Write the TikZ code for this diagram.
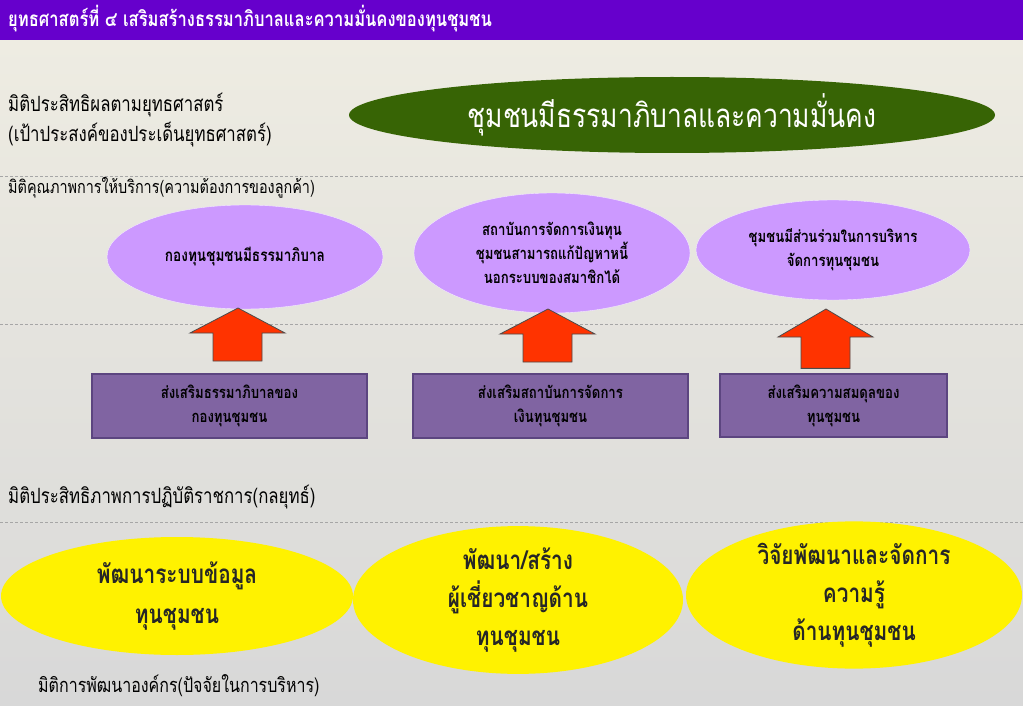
\documentclass[tikz,border=0pt]{standalone}
\usepackage{fontspec}
\newfontfamily\thaifont[Script=Thai,FakeStretch=0.8]{Loma}
\usetikzlibrary{shapes.geometric, positioning}
\definecolor{headpurple}{RGB}{102,0,204}
\definecolor{goalgreen}{RGB}{55,100,5}
\definecolor{lilac}{RGB}{204,153,255}
\definecolor{boxpurple}{RGB}{128,100,162}
\definecolor{boxedge}{RGB}{92,69,128}
\definecolor{arrowred}{RGB}{255,51,0}
\definecolor{bgtop}{RGB}{238,236,226}
\definecolor{bgbottom}{RGB}{216,216,216}
\newcommand\fsz[2]{\fontsize{#1}{#2}\selectfont}

\begin{document}
\begin{tikzpicture}[x=1pt,y=-1pt,font=\thaifont,
	dimlabel/.style={anchor=west,inner sep=0},
	divider/.style={densely dashed,draw=gray!70,line width=0.8},
	goalnode/.style={ellipse,fill=goalgreen,text=white,minimum width=646,minimum height=76,font=\thaifont\fsz{33}{40}},
	servicenode/.style={ellipse,fill=lilac,draw=white!80!lilac,align=center,inner sep=0,font=\thaifont\bfseries\fsz{16.5}{24}},
	strategybox/.style={rectangle,fill=boxpurple,draw=boxedge,line width=1.5,align=center,font=\thaifont\bfseries\fsz{16.5}{24}},
	orgnode/.style={ellipse,fill=yellow,align=center,inner sep=0,text=black!85,font=\thaifont\bfseries\fsz{26}{38}},
	uparrow/.pic={\filldraw[fill=arrowred,draw=black!70,line width=0.8]
		(0,0) -- (47,25) -- (24,25) -- (24,53) -- (-25,53) -- (-25,25) -- (-48,25) -- cycle;}]
	\useasboundingbox (0,0) rectangle (1023,706);
	\shade[top color=bgtop,bottom color=bgbottom] (0,40) rectangle (1023,706);
	\fill[headpurple] (0,0) rectangle (1023,40);
	\node[dimlabel,text=white,font=\thaifont\bfseries\fsz{20.7}{24}] (title) at (8,19) {ยุทธศาสตร์ที่ ๔ เสริมสร้างธรรมาภิบาลและความมั่นคงของทุนชุมชน};

	\coordinate (d1l) at (0,176); \coordinate (d1r) at (1023,176);
	\coordinate (d2l) at (0,324); \coordinate (d2r) at (1023,324);
	\coordinate (d3l) at (0,522); \coordinate (d3r) at (1023,522);
	\draw[divider] (d1l) -- (d1r);
	\draw[divider] (d2l) -- (d2r);
	\draw[divider] (d3l) -- (d3r);

	\node[dimlabel,font=\thaifont\fsz{21}{30},align=left] (effect) at (8,120) {มิติประสิทธิผลตามยุทธศาสตร์\\(เป้าประสงค์ของประเด็นยุทธศาสตร์)};
	\node[dimlabel,font=\thaifont\fsz{18}{20}] (quality) at (8,188) {มิติคุณภาพการให้บริการ(ความต้องการของลูกค้า)};
	\node[dimlabel,font=\thaifont\fsz{21}{24}] (perform) at (8,497) {มิติประสิทธิภาพการปฏิบัติราชการ(กลยุทธ์)};
	\node[dimlabel,font=\thaifont\fsz{20}{24}] (develop) at (38,686) {มิติการพัฒนาองค์กร(ปัจจัยในการบริหาร)};

	\node[goalnode] (goal) at (672,115) {ชุมชนมีธรรมาภิบาลและความมั่นคง};

	\node[servicenode,minimum width=276,minimum height=104,font=\thaifont\bfseries\fsz{17}{24}] (fund) at (245,257) {กองทุนชุมชนมีธรรมาภิบาล};
	\node[servicenode,minimum width=276,minimum height=120] (inst) at (552,253) {สถาบันการจัดการเงินทุน\\ชุมชนสามารถแก้ปัญหาหนี้\\นอกระบบของสมาชิกได้};
	\node[servicenode,minimum width=274,minimum height=100] (part) at (833,250) {ชุมชนมีส่วนร่วมในการบริหาร\\จัดการทุนชุมชน};

	\pic at (238,308) {uparrow};
	\pic at (548,309) {uparrow};
	\pic[yscale=1.12] at (826,309) {uparrow};

	\node[strategybox,minimum width=275,minimum height=64] (govern) at (229.5,406) {ส่งเสริมธรรมาภิบาลของ\\กองทุนชุมชน};
	\node[strategybox,minimum width=275,minimum height=64] (instpro) at (550.5,406) {ส่งเสริมสถาบันการจัดการ\\เงินทุนชุมชน};
	\node[strategybox,minimum width=227,minimum height=63] (balance) at (833.5,405.5) {ส่งเสริมความสมดุลของ\\ทุนชุมชน};

	\node[orgnode,minimum width=352,minimum height=118,font=\thaifont\bfseries\fsz{26}{40}] (info) at (177,596) {พัฒนาระบบข้อมูล\\ทุนชุมชน};
	\node[orgnode,minimum width=330,minimum height=136] (expert) at (518,600) {พัฒนา/สร้าง\\ผู้เชี่ยวชาญด้าน\\ทุนชุมชน};
	\node[orgnode,minimum width=336,minimum height=136] (know) at (854,595) {วิจัยพัฒนาและจัดการ\\ความรู้\\ด้านทุนชุมชน};
\end{tikzpicture}
\end{document}
